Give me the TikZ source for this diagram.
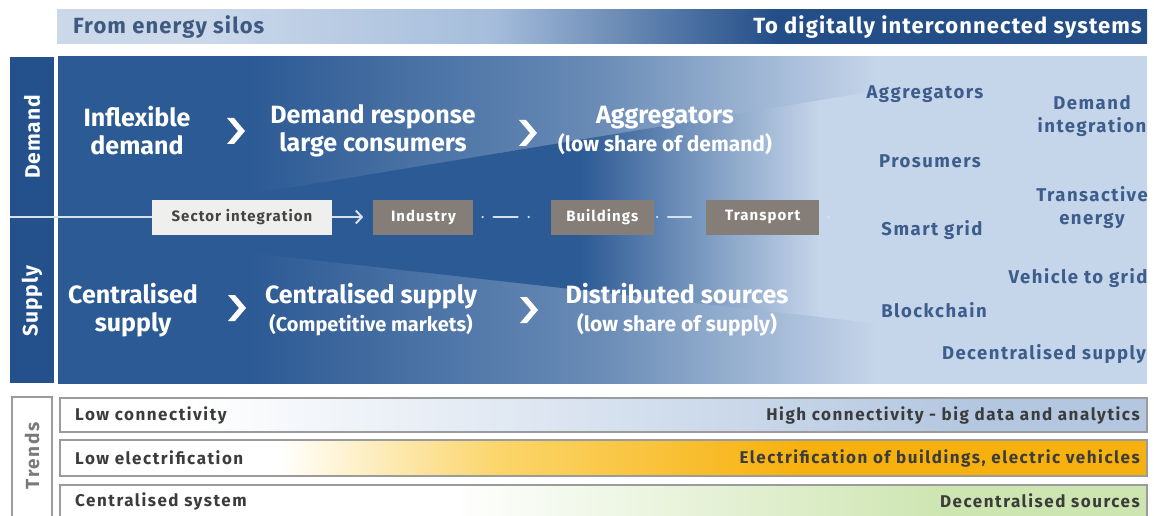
\documentclass[tikz,border=0pt]{standalone}
\usepackage{fontspec}
\setmainfont{Fira Sans}
\usetikzlibrary{arrows.meta, positioning}

\definecolor{paneldark}{HTML}{2C5A94}
\definecolor{panellight}{HTML}{C6D6EA}
\colorlet{panelmid}{paneldark!60!panellight}
\definecolor{tabblue}{HTML}{24518B}
\definecolor{hdrlight}{HTML}{CAD8EA}
\definecolor{hdrmid}{HTML}{A5BDDB}
\definecolor{hdrdark}{HTML}{234E88}
\definecolor{hdrtext}{HTML}{3E5A80}
\definecolor{notecol}{HTML}{3D5D8C}
\definecolor{boxgrey}{HTML}{857E78}
\definecolor{boxlight}{HTML}{EFEFEE}
\definecolor{boxtext}{HTML}{444444}
\definecolor{linkcol}{HTML}{D5E1EF}
\definecolor{barborder}{HTML}{9B9B9B}
\definecolor{bartext}{HTML}{3C3C3C}
\definecolor{trendtext}{HTML}{7A7A7A}
\definecolor{bluebar}{HTML}{B3C7E0}
\definecolor{yellowbar}{HTML}{FBD66C}
\definecolor{orangebar}{HTML}{F7B10E}
\definecolor{greenbar}{HTML}{CDE5B0}

% shadings: the middle 50bp are stretched over the path
\pgfdeclarehorizontalshading{panelfade}{100bp}{color(0bp)=(paneldark); color(33.8bp)=(paneldark); color(49.9bp)=(panelmid); color(62.7bp)=(panellight); color(100bp)=(panellight)}
\pgfdeclarehorizontalshading{funnelfade}{100bp}{color(0bp)=(paneldark); color(55bp)=(paneldark); color(70bp)=(panellight); color(100bp)=(panellight)}
\pgfdeclarehorizontalshading{hdrfade}{100bp}{color(0bp)=(hdrlight); color(32bp)=(hdrlight); color(45bp)=(hdrmid); color(58bp)=(hdrdark); color(100bp)=(hdrdark)}
\pgfdeclarehorizontalshading{bluefade}{100bp}{color(0bp)=(white); color(31bp)=(white); color(67bp)=(bluebar); color(100bp)=(bluebar)}
\pgfdeclarehorizontalshading{orangefade}{100bp}{color(0bp)=(white); color(35bp)=(white); color(45bp)=(yellowbar); color(59bp)=(orangebar); color(100bp)=(orangebar)}
\pgfdeclarehorizontalshading{greenfade}{100bp}{color(0bp)=(white); color(43bp)=(white); color(66bp)=(greenbar); color(100bp)=(greenbar)}

\tikzstyle{stage} = [text=white, align=center, inner sep=0pt, font=\fontsize{25}{28}\selectfont\bfseries]
\tikzstyle{note} = [text=notecol, align=center, inner sep=0pt, font=\fontsize{18.5}{23}\selectfont\bfseries\addfontfeature{LetterSpace=8}]
\tikzstyle{tab} = [text=white, rotate=90, inner sep=0pt, font=\fontsize{21}{22}\selectfont\bfseries\addfontfeature{LetterSpace=4}]
\tikzstyle{sectbox} = [rectangle, fill=boxgrey, text=white, minimum height=35pt, inner sep=0pt, font=\fontsize{15}{17}\selectfont\bfseries\addfontfeature{LetterSpace=7}]
\tikzstyle{startbox} = [sectbox, fill=boxlight, text=boxtext]
\tikzstyle{link} = [draw=linkcol, line width=2pt]
\tikzstyle{arrow} = [link, -{Straight Barb[length=6pt,width=13pt]}]
\tikzstyle{dotlink} = [link, line width=2.5pt, line cap=round]
\tikzstyle{bar} = [draw=barborder, line width=1.5pt]
\tikzstyle{bartext} = [text=bartext, inner sep=0pt, font=\fontsize{17}{18}\selectfont\bfseries\addfontfeature{LetterSpace=9}]
\tikzstyle{hdrtxt} = [inner sep=0pt, font=\fontsize{22}{24}\selectfont\bfseries\addfontfeature{LetterSpace=5}]

\newcommand{\chevron}[2]{\fill[white] (#1-9,#2-13) -- ++(7,0) -- ++(11,13) -- ++(-11,13) -- ++(-7,0) -- ++(11,-13) -- cycle;}

\begin{document}
\begin{tikzpicture}[x=1pt, y=-1pt]
	\useasboundingbox (0,0) rectangle (1154,516);

	% Header - - - - - - - - - - - - - - - - - - - - - - - - - - - - - - - - -
	\shade[shading=hdrfade] (57,10) rectangle (1147,44);
	\node(from)[hdrtxt, anchor=west, text=hdrtext] at (73,27) {From energy silos};
	\node(to)[hdrtxt, anchor=east, text=white] at (1142,27) {To digitally interconnected systems};

	% Panel - - - - - - - - - - - - - - - - - - - - - - - - - - - - - - - - - -
	\shade[shading=panelfade] (58,57) rectangle (1147,383);
	\shade[shading=funnelfade] (100,219) -- (900,87) -- (900,326) -- (100,236) -- cycle;
	\fill[tabblue] (10,57) rectangle (54,383);
	\node(dem)[tab] at (32,137) {Demand};
	\node(sup)[tab] at (32,301) {Supply};

	%DEMAND ROW . . . . . . . . . . . . . . . . . . . . . . . . . . . . . . . .
	\node(infl)[stage] at (137,131) {Inflexible\\demand};
	\node(dresp)[stage] at (373,131) {Demand response\\large consumers};
	\node(aggr)[stage] at (665,131) {Aggregators\\{\fontsize{21}{28}\selectfont(low share of demand)}};
	\chevron{236}{131}
	\chevron{528}{133}

	%SUPPLY ROW . . . . . . . . . . . . . . . . . . . . . . . . . . . . . . . .
	\node(cent)[stage] at (133,310) {Centralised\\supply};
	\node(csup)[stage] at (371,310) {Centralised supply\\{\fontsize{20}{28}\selectfont(Competitive markets)}};
	\node(dist)[stage] at (677,310) {Distributed sources\\{\fontsize{21}{28}\selectfont(low share of supply)}};
	\chevron{237}{308}
	\chevron{529}{310}

	%SECTOR INTEGRATION . . . . . . . . . . . . . . . . . . . . . . . . . . . .
	\coordinate(lft) at (10,217);
	\node(sec)[startbox, minimum width=180pt] at (242,217) {Sector integration};
	\node(ind)[sectbox, minimum width=100pt, right=41pt of sec] {Industry};
	\node(bld)[sectbox, minimum width=103pt, right=77pt of ind] {Buildings};
	\node(trn)[sectbox, minimum width=113pt, right=52pt of bld] {Transport};

	\draw[link](lft)--(sec);
	\draw[arrow, shorten >=10pt](sec)--(ind);
	\draw[dotlink, dash pattern=on 0pt off 11pt on 24pt off 11pt on 0pt off 12pt on 0pt off 40pt, shorten <=9pt, shorten >=10pt](ind)--(bld);
	\draw[dotlink, dash pattern=on 0pt off 11pt on 23pt off 10pt on 0pt off 40pt, shorten <=3pt, shorten >=5pt](bld)--(trn);
	\fill[linkcol]([xshift=9pt]trn.east) circle (1.4pt);

	%DIGITAL SYSTEMS . . . . . . . . . . . . . . . . . . . . . . . . . . . . .
	\node(nagg)[note] at (925,94) {Aggregators};
	\node(ndem)[note] at (1092,116) {Demand\\integration};
	\node(npro)[note] at (930,161) {Prosumers};
	\node(ntra)[note] at (1092,208) {Transactive\\energy};
	\node(nsma)[note] at (932,230) {Smart grid};
	\node(nveh)[note] at (1078,278) {Vehicle to grid};
	\node(nblo)[note] at (934,310) {Blockchain};
	\node(ndec)[note] at (1044,354) {Decentralised supply};

	% Trends - - - - - - - - - - - - - - - - - - - - - - - - - - - - - - - - -
	\draw[bar, fill=white] (12,397) rectangle (52,530);
	\node(trd)[tab, text=trendtext, font=\fontsize{19}{20}\selectfont\bfseries\addfontfeature{LetterSpace=8}] at (32,456) {Trends};

	\shade[bar, shading=bluefade] (60,398) rectangle (1147,432);
	\node(lcon)[bartext, anchor=west] at (75,415) {Low connectivity};
	\node(hcon)[bartext, anchor=east] at (1140,415) {High connectivity - big data and analytics};

	\shade[bar, shading=orangefade] (60,440) rectangle (1147,476);
	\node(lele)[bartext, anchor=west] at (75,458) {Low electrification};
	\node(hele)[bartext, anchor=east] at (1140,458) {Electrification of buildings, electric vehicles};

	\shade[bar, shading=greenfade] (60,485) rectangle (1147,530);
	\node(csys)[bartext, anchor=west] at (75,501) {Centralised system};
	\node(dsrc)[bartext, anchor=east] at (1140,501) {Decentralised sources};

\end{tikzpicture}
\end{document}
